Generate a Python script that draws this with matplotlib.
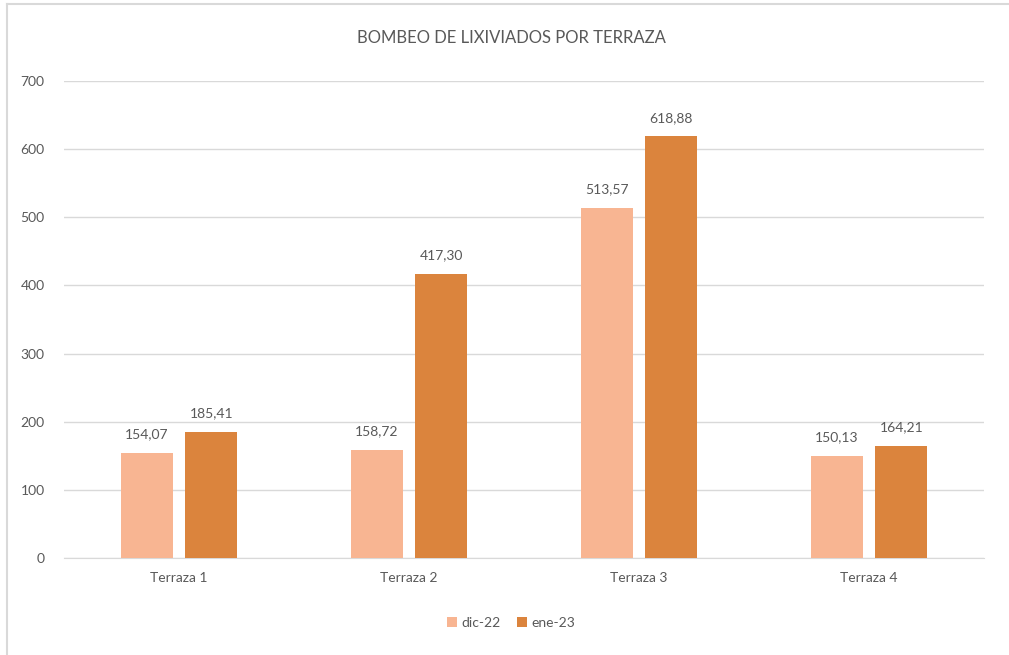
import matplotlib.pyplot as plt
import numpy as np

# Datos
terrazas = ["Terraza 1", "Terraza 2", "Terraza 3", "Terraza 4"]
dic_22 = [154.07, 158.72, 513.57, 150.13]
ene_23 = [185.41, 417.30, 618.88, 164.21]
series = ["dic-22", "ene-23"]

gris = "#595959"
plt.rcParams["font.family"] = ["Lato", "DejaVu Sans"]

fig = plt.figure(figsize=(10.09, 6.55), dpi=100)
ax = fig.add_axes([64 / 1009, 1 - 558 / 655, 920 / 1009, (558 - 81) / 655])

x = np.arange(len(terrazas))
ancho = 0.226
desp = 0.141
b1 = ax.bar(x - desp, dic_22, ancho, color="#F8B592", label=series[0], zorder=3)
b2 = ax.bar(x + desp, ene_23, ancho, color="#DB843D", label=series[1], zorder=3)

for barras, valores in ((b1, dic_22), (b2, ene_23)):
    for b, v in zip(barras, valores):
        ax.annotate(f"{v:.2f}".replace(".", ","), (b.get_x() + b.get_width() / 2, v),
                    xytext=(0, 9), textcoords="offset points", ha="center", va="bottom",
                    fontsize=10, color=gris)

ax.set_xlim(-0.5, 3.5)
ax.set_ylim(0, 700)
ax.set_yticks(range(0, 701, 100))
ax.set_xticks(x)
ax.set_xticklabels(terrazas)
ax.grid(axis="y", color="#D9D9D9", linewidth=1, zorder=0)
for s in ("top", "right", "left"):
    ax.spines[s].set_visible(False)
ax.spines["bottom"].set_color("#D9D9D9")
ax.tick_params(length=0, colors=gris, labelsize=10)
ax.tick_params(axis="y", pad=14)
ax.tick_params(axis="x", pad=10)

fig.text(511 / 1009, 1 - 38 / 655, "BOMBEO DE LIXIVIADOS POR TERRAZA", ha="center", va="center",
         fontsize=12, color=gris)

fig.legend(loc="center", bbox_to_anchor=(511 / 1009, 1 - 623 / 655), ncol=2, frameon=False,
           fontsize=10, labelcolor=gris, handlelength=0.7, handleheight=0.7, handletextpad=0.3,
           columnspacing=1.2)

# borde del gráfico
fig.add_artist(plt.Line2D([7 / 1009, 7 / 1009], [0, 1 - 4 / 655], transform=fig.transFigure,
                          color="#D9D9D9", linewidth=1.5))
fig.add_artist(plt.Line2D([7 / 1009, 1], [1 - 4 / 655, 1 - 4 / 655], transform=fig.transFigure,
                          color="#D9D9D9", linewidth=1.5))

fig.savefig("out.png", dpi=100)
